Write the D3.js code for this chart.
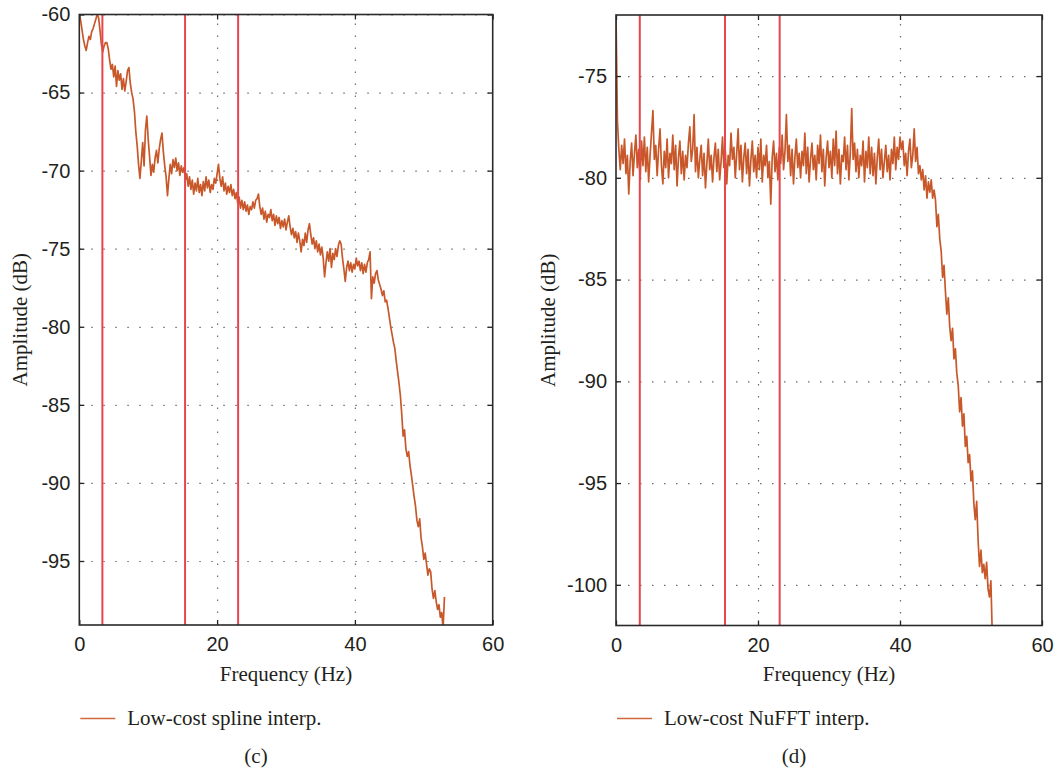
<!DOCTYPE html>
<html lang="en">
<head>
<meta charset="utf-8">
<title>Low-cost interpolation spectra</title>
<script src="https://cdn.jsdelivr.net/npm/d3@7/dist/d3.min.js"></script>
<style>
  body { margin: 0; background: #fff; }
  svg { display: block; font-family: "Liberation Serif", "Times New Roman", serif; }
  .tick text { fill: #231f20; font-size: 20px; }
  .grid line { stroke: #6d6d6d; stroke-width: 1.2; stroke-dasharray: 1.5 10.5; }
  .grid path, .axis path { display: none; }
  .axis line { stroke: #222; stroke-width: 1.3; }
  .line { fill: none; stroke: #c8582a; stroke-width: 1.7; stroke-linejoin: round; }
  .marker { stroke: #e8464e; stroke-width: 2; }
  .frame { fill: none; stroke: #2a2a2a; stroke-width: 1.6; }
  .label { fill: #231f20; font-size: 21px; }
</style>
</head>
<body>
<div id="chart"></div>
<script>
// frequency step of both spectra (Hz)
var freqStep = 0.2;

// (c) low-cost spline interpolation, amplitude in dB, one value per 0.2 Hz from 0 Hz
var splineAmp = [
  -60.0, -60.4, -61.0, -61.6, -62.0, -62.3, -61.8, -61.4, -61.6, -61.1,
  -60.9, -60.6, -60.3, -60.0, -60.2, -61.0, -61.9, -62.4, -62.0, -61.8,
  -61.8, -62.2, -62.9, -63.5, -63.2, -64.0, -63.3, -64.6, -63.6, -64.2,
  -63.8, -64.8, -64.1, -64.9, -64.3, -63.6, -63.4, -64.4, -65.0, -65.4,
  -66.2, -67.5, -68.4, -69.6, -70.5, -69.4, -68.2, -69.7, -67.4, -66.5,
  -68.0, -69.1, -70.3, -69.6, -70.1, -69.2, -68.7, -69.5, -68.6, -68.0,
  -67.6, -68.8, -69.7, -70.4, -71.6, -70.5, -69.6, -70.2, -69.3, -69.8,
  -69.2, -70.0, -69.5, -70.3, -69.7, -70.1, -69.8, -70.6, -70.2, -71.0,
  -70.4, -71.2, -70.6, -71.5, -70.8, -71.3, -70.5, -71.4, -70.9, -71.6,
  -70.7, -71.3, -70.4, -71.1, -70.6, -71.4, -70.9, -71.2, -70.5, -70.8,
  -70.2, -69.6, -70.5, -71.0, -70.4, -71.3, -70.8, -71.5, -71.0, -71.4,
  -70.9, -71.6, -71.2, -71.8, -71.4, -72.1, -71.7, -72.4, -71.9, -72.5,
  -72.0, -72.6, -72.2, -72.8, -72.3, -72.5, -72.0, -72.4, -71.9, -71.8,
  -71.5, -72.3, -72.8, -72.4, -73.1, -72.6, -73.3, -72.8, -73.0, -72.5,
  -73.2, -72.8, -73.5, -72.9, -73.4, -73.0, -73.7, -73.2, -73.6, -73.1,
  -73.8, -73.3, -72.9, -73.6, -74.1, -73.7, -74.3, -73.9, -74.6, -74.0,
  -74.5, -75.2, -74.4, -74.8, -74.0, -74.6, -73.8, -73.4, -74.1, -74.7,
  -74.3, -75.0, -74.5, -75.2, -74.7, -75.4, -74.9, -75.6, -76.8, -75.9,
  -75.2, -75.8, -75.0, -76.2, -75.3, -75.7, -75.0, -75.5, -74.8, -74.5,
  -74.7, -75.6, -76.3, -77.1, -76.2, -75.8, -76.4, -75.9, -76.5, -76.0,
  -76.3, -75.6, -76.1, -75.8, -76.4, -75.9, -76.6, -76.0, -76.5, -75.9,
  -75.7, -75.2, -78.2, -76.8, -77.2, -76.6, -76.4, -77.0, -77.3, -77.6,
  -78.0, -77.7, -78.4, -78.3, -78.8, -79.4, -80.0, -80.5, -81.0, -81.4,
  -82.2, -82.9, -83.6, -84.4, -85.6, -87.0, -86.6, -87.8, -88.3, -88.0,
  -88.9, -89.5, -90.2, -90.9, -91.5, -92.4, -92.8, -92.3, -93.5, -94.1,
  -94.9, -94.5, -95.2, -95.9, -95.5, -95.7, -96.8, -97.4, -96.9, -97.6,
  -98.1, -97.8, -98.6, -98.3, -99.3, -97.3
];

// (d) low-cost NuFFT interpolation, amplitude in dB, one value per 0.2 Hz from 0 Hz
var nufftAmp = [
  -72.0, -77.2, -78.6, -79.6, -78.4, -79.3, -78.1, -79.8, -78.9, -80.8,
  -79.2, -78.3, -79.9, -78.8, -77.9, -79.5, -78.6, -80.1, -78.2, -79.4,
  -78.0, -79.7, -78.5, -80.2, -78.9, -77.8, -76.7, -79.1, -78.4, -79.9,
  -78.6, -77.6, -79.4, -80.3, -78.7, -79.5, -78.1, -80.0, -78.8, -79.3,
  -77.9, -79.6, -78.4, -80.4, -79.0, -78.2, -79.8, -78.7, -80.1, -78.9,
  -79.5, -78.3, -77.5, -79.2, -78.6, -76.9, -79.7, -78.5, -80.0, -79.1,
  -78.4, -79.9, -78.8, -80.5, -79.3, -78.1, -79.6, -78.9, -80.2, -79.0,
  -78.3, -79.7, -78.6, -80.1, -79.2, -78.0, -79.5, -78.7, -80.3, -78.9,
  -79.4, -77.8, -79.1, -78.5, -80.0, -78.8, -77.6, -79.6, -78.4, -80.2,
  -79.0, -78.3, -79.8, -78.6, -80.4, -79.1, -78.2, -79.7, -78.9, -80.0,
  -78.5, -79.6, -78.1, -80.2, -78.9, -79.4, -78.4, -80.0, -79.2, -81.3,
  -79.0, -78.2, -79.7, -78.8, -80.1, -78.5, -79.3, -77.9, -79.6, -78.7,
  -76.9, -79.2, -78.4, -79.9, -78.6, -80.3, -79.0, -78.1, -79.5, -78.8,
  -80.0, -78.7, -79.4, -77.8, -79.8, -78.5, -80.2, -79.1, -78.3, -79.6,
  -78.9, -80.1, -78.4, -79.3, -77.9, -79.7, -78.6, -80.4, -79.0, -78.2,
  -79.5, -78.7, -80.0, -78.1, -79.4, -77.7, -79.8, -78.6, -80.3, -78.9,
  -79.2, -78.0, -79.6, -78.4, -80.1, -78.8, -76.6, -79.1, -78.3, -79.7,
  -78.6, -80.0, -78.9, -79.4, -78.2, -80.2, -78.7, -79.5, -78.0, -79.8,
  -78.5, -79.9, -78.8, -80.3, -79.0, -78.1, -79.6, -78.6, -80.0, -79.2,
  -78.4, -79.7, -78.9, -80.1, -78.6, -79.3, -78.0, -79.6, -78.5, -79.1,
  -78.0, -78.6, -78.2, -79.4, -78.8, -79.9, -78.7, -78.1, -79.5, -78.9,
  -77.6, -79.2, -78.5, -79.8, -79.4, -80.1, -79.6, -80.6, -79.9, -81.0,
  -80.2, -80.7, -80.1, -81.0, -80.6, -81.1, -82.4, -81.8, -83.0, -83.6,
  -84.9, -84.3, -85.6, -86.7, -85.9, -87.3, -88.0, -87.4, -88.9, -88.4,
  -89.6, -90.2, -91.5, -90.8, -92.2, -91.6, -93.2, -92.7, -94.0, -93.6,
  -94.9, -94.4, -96.0, -96.8, -95.9, -97.8, -99.1, -98.3, -99.4, -99.0,
  -99.7, -98.9, -100.2, -100.6, -99.8, -102.5
];

// red reference frequencies (Hz)
var markerFreqs = [3.35, 15.35, 23.05];

// tick values
var xTicks = [0, 20, 40, 60];
var splineYTicks = [-95, -90, -85, -80, -75, -70, -65, -60];
var nufftYTicks = [-100, -95, -90, -85, -80, -75];

var legendNames = ["Low-cost spline interp.", "Low-cost NuFFT interp."];
var panelTags = ["(c)", "(d)"];

var width = 1056, height = 769;

var svg = d3.select("#chart").append("svg")
  .attr("width", width)
  .attr("height", height);

svg.append("rect").attr("width", width).attr("height", height).attr("fill", "#fff");

var panels = [
  { id: "c", amp: splineAmp, yTicks: splineYTicks, yDomain: [-99.1, -60],
    left: 79.3, right: 492.7, top: 14.5, bottom: 625, legend: legendNames[0], tag: panelTags[0],
    yLabelX: 20, tagX: 256 },
  { id: "d", amp: nufftAmp, yTicks: nufftYTicks, yDomain: [-102, -72],
    left: 616, right: 1042, top: 15, bottom: 625.5, legend: legendNames[1], tag: panelTags[1],
    yLabelX: 548, tagX: 794 }
];

panels.forEach(function (p) {
  var w = p.right - p.left, h = p.bottom - p.top;
  var data = p.amp.map(function (v, i) { return { f: i * freqStep, a: v }; });

  var x = d3.scaleLinear().domain([0, 60]).range([0, w]);
  var y = d3.scaleLinear().domain(p.yDomain).range([h, 0]);

  var g = svg.append("g").attr("transform", "translate(" + p.left + "," + p.top + ")");

  g.append("defs").append("clipPath").attr("id", "clip-" + p.id)
    .append("rect").attr("width", w).attr("height", h);

  // dotted grid
  g.append("g").attr("class", "grid")
    .call(d3.axisLeft(y).tickValues(p.yTicks).tickSize(-w).tickFormat(""));
  g.append("g").attr("class", "grid")
    .attr("transform", "translate(0," + h + ")")
    .call(d3.axisBottom(x).tickValues(xTicks.slice(1, 3)).tickSize(-h).tickFormat(""));

  // spectrum
  var line = d3.line()
    .x(function (d) { return x(d.f); })
    .y(function (d) { return y(d.a); });

  g.append("g").attr("clip-path", "url(#clip-" + p.id + ")")
    .append("path").datum(data)
    .attr("class", "line")
    .attr("d", line);

  // red marker lines
  g.selectAll(".marker").data(markerFreqs).enter().append("line")
    .attr("class", "marker")
    .attr("x1", function (d) { return x(d); })
    .attr("x2", function (d) { return x(d); })
    .attr("y1", 0).attr("y2", h);

  // axes, ticks pointing inward
  g.append("g").attr("class", "axis")
    .call(d3.axisLeft(y).tickValues(p.yTicks).tickSize(-5).tickPadding(9)
      .tickFormat(function (d) { return String(d); }));
  g.append("g").attr("class", "axis")
    .attr("transform", "translate(" + w + ",0)")
    .call(d3.axisRight(y).tickValues(p.yTicks).tickSize(-5).tickFormat(""));
  g.append("g").attr("class", "axis")
    .attr("transform", "translate(0," + h + ")")
    .call(d3.axisBottom(x).tickValues(xTicks).tickSize(-5).tickPadding(12)
      .tickFormat(function (d) { return String(d); }));
  g.append("g").attr("class", "axis")
    .call(d3.axisTop(x).tickValues(xTicks).tickSize(-5).tickFormat(""));

  g.append("rect").attr("class", "frame").attr("width", w).attr("height", h);

  // axis titles
  svg.append("text").attr("class", "label")
    .attr("x", p.left + w / 2).attr("y", 681)
    .attr("text-anchor", "middle")
    .text("Frequency (Hz)");

  svg.append("text").attr("class", "label")
    .attr("transform", "translate(" + p.yLabelX + "," + (p.top + h / 2) + ") rotate(-90)")
    .attr("text-anchor", "middle")
    .attr("dy", "0.35em")
    .text("Amplitude (dB)");

  // legend
  svg.append("line")
    .attr("x1", p.left + 1).attr("x2", p.left + 36)
    .attr("y1", 718.5).attr("y2", 718.5)
    .attr("stroke", "#d06a3c").attr("stroke-width", 1.5);
  svg.append("text").attr("class", "label")
    .attr("x", p.left + 48).attr("y", 725)
    .text(p.legend);

  svg.append("text").attr("class", "label")
    .attr("x", p.tagX).attr("y", 763)
    .attr("text-anchor", "middle")
    .text(p.tag);
});
</script>
</body>
</html>
